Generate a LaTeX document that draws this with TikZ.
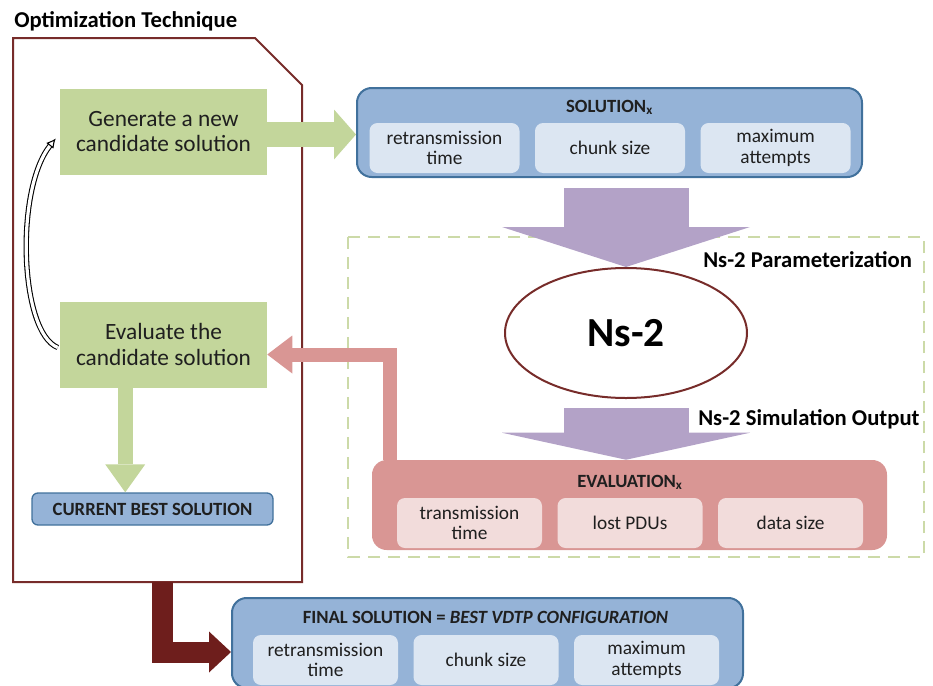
\documentclass[tikz,border=0pt]{standalone}
\usepackage{fontspec}
\setmainfont{Carlito}
\usetikzlibrary{positioning,arrows.meta,calc,shapes.geometric}

\definecolor{boxgreen}{HTML}{C3D69B}
\definecolor{boxblue}{HTML}{95B3D7}
\definecolor{lineblue}{HTML}{41719C}
\definecolor{paleblue}{HTML}{DCE6F2}
\definecolor{boxpink}{HTML}{D99694}
\definecolor{palepink}{HTML}{F2DCDB}
\definecolor{lilac}{HTML}{B3A2C7}
\definecolor{wine}{HTML}{772C2A}
\definecolor{darkwine}{HTML}{6E1E1C}
\definecolor{olive}{HTML}{CCDAA8}
\definecolor{ink}{HTML}{1F1F1F}

\tikzset{
  stepbox/.style={fill=boxgreen, text=ink, align=center, inner sep=0pt,
    minimum width=155.25pt, minimum height=64.5pt, font=\fontsize{17.5}{19}\selectfont},
  bigbox/.style={rounded corners=11pt, inner sep=0pt, minimum height=67.5pt},
  inbox/.style={fill=paleblue, rounded corners=6pt, text=ink, align=center, inner sep=0pt,
    minimum width=108.75pt, minimum height=37.5pt, font=\fontsize{14.5}{15.5}\selectfont},
  boxtitle/.style={anchor=base, inner sep=0pt, text=ink, font=\bfseries\fontsize{14}{16}\selectfont},
  bigtitle/.style={anchor=base west, inner sep=0pt, font=\bfseries\fontsize{17}{20}\selectfont},
  loopline/.style={draw=black, double=white, double distance=2.4pt, line width=0.8pt,
    -{Latex[open,length=7pt,width=7pt]}}
}

\begin{document}
\begin{tikzpicture}[x=0.75pt,y=-0.75pt]
\useasboundingbox (0,0) rectangle (933,686);
\clip (0,0) rectangle (933,686);

% Ns-2 region and optimizer frame
\draw[olive, line width=1.3pt, dash pattern=on 9pt off 6pt] (348,237) rectangle (924,557);
\draw[wine, line width=1.5pt] (13,38) -- (255,38) -- (302,85) -- (302,582) -- (13,582) -- cycle;
\coordinate (fb) at (162.5,582);
\node[bigtitle] (title) at (14,27) {Optimization Technique};

\node[stepbox] (gen) at (163.5,131.5) {Generate a new\\candidate solution};
\node[stepbox] (evalc) at (163.5,344.5) {Evaluate the\\candidate solution};
\node[fill=boxblue, draw=lineblue, line width=1pt, rounded corners=4.5pt, inner sep=0pt,
  minimum width=180.75pt, minimum height=24pt, text=ink,
  font=\bfseries\fontsize{14}{16}\selectfont] (best) at (152.5,509) {CURRENT BEST SOLUTION};

% solution
\node[bigbox, fill=boxblue, draw=lineblue, line width=1.5pt, minimum width=378.75pt, minimum height=66.75pt] (sol) at (609.5,132.5) {};
\node[boxtitle] (soltit) at (609.5,112) {SOLUTION\textsubscript{x}};
\node[inbox, minimum width=112.5pt] (sol1) at (444.5,148) {retransmission\\time};
\node[inbox, minimum width=112.5pt, right=11.25pt of sol1] (sol2) {chunk size};
\node[inbox, minimum width=112.5pt, right=11.25pt of sol2] (sol3) {maximum\\attempts};

\node[ellipse, draw=wine, line width=1.5pt, fill=white, minimum width=181.5pt, minimum height=97.5pt,
  inner sep=0pt, font=\bfseries\fontsize{31}{31}\selectfont] (ns) at (626,333) {Ns-2};
\node[bigtitle] (lblpar) at (703,267) {Ns-2 Parameterization};
\node[bigtitle] (lblsim) at (698,425) {Ns-2 Simulation Output};

% evaluation
\node[bigbox, fill=boxpink, minimum width=386.25pt] (evx) at (629.5,505) {};
\node[boxtitle] (evxtit) at (630,487) {EVALUATION\textsubscript{x}};
\node[inbox, fill=palepink] (ev1) at (469.5,523) {transmission\\time};
\node[inbox, fill=palepink, right=11.25pt of ev1] (ev2) {lost PDUs};
\node[inbox, fill=palepink, right=11.25pt of ev2] (ev3) {data size};

% final
\node[bigbox, fill=boxblue, draw=lineblue, line width=1.5pt, minimum width=383.25pt] (fin) at (487.5,643) {};
\node[boxtitle] (fintit) at (485.5,623) {FINAL SOLUTION = \itshape BEST VDTP CONFIGURATION};
\node[inbox] (fin1) at (325.5,660) {retransmission\\time};
\node[inbox, right=11.25pt of fin1] (fin2) {chunk size};
\node[inbox, right=11.25pt of fin2] (fin3) {maximum\\attempts};

% block arrows
\coordinate (gtip) at ($(sol.west |- gen.east)+(0,3)$);
\draw[boxgreen, line width=18.75pt] ($(gen.east)+(0,3)$) -- ($(gtip)+(-22,0)$);
\fill[boxgreen] ($(gtip)+(-22,-25)$) -- (gtip) -- ($(gtip)+(-22,25)$) -- cycle;

\coordinate (gd) at ($(evalc.south west)+(65.5,0)$);
\coordinate (gt) at (gd |- best.north);
\draw[boxgreen, line width=11.25pt] (gd) -- ($(gt)+(0,-28)$);
\fill[boxgreen] ($(gt)+(-20,-28)$) -- (gt) -- ($(gt)+(20,-28)$) -- cycle;

\coordinate (p1) at (sol.south -| ns.north);
\draw[lilac, line width=93.75pt] ($(p1)+(0,10)$) -- ($(ns.north)+(0,-40)$);
\fill[lilac] ($(ns.north)+(-124,-40)$) -- (ns.north) -- ($(ns.north)+(124,-40)$) -- cycle;

\coordinate (p2) at (evx.north -| ns.south);
\draw[lilac, line width=93.75pt] ($(ns.south)+(0,9)$) -- ($(p2)+(0,-27)$);
\fill[lilac] ($(p2)+(-124,-27)$) -- (p2) -- ($(p2)+(124,-27)$) -- cycle;

\coordinate (ptip) at ($(evalc.east)+(0,10)$);
\draw[boxpink, line width=10.5pt, line join=miter] ($(evx.north west)+(18,0)$) |- ($(ptip)+(25,0)$);
\fill[boxpink] ($(ptip)+(25,-19)$) -- (ptip) -- ($(ptip)+(25,19)$) -- cycle;

\coordinate (rtip) at ($(fin.west)+(0,9)$);
\draw[darkwine, line width=15.75pt, line join=miter] (fb) |- ($(rtip)+(-22,0)$);
\fill[darkwine] ($(rtip)+(-22,-20.5)$) -- (rtip) -- ($(rtip)+(-22,20.5)$) -- cycle;

% loop back
\draw[loopline] ($(evalc.west)+(-2,3)$) .. controls +(-38,-15) and +(-41,51) .. ($(gen.west)+(-4,7)$);
\end{tikzpicture}
\end{document}
